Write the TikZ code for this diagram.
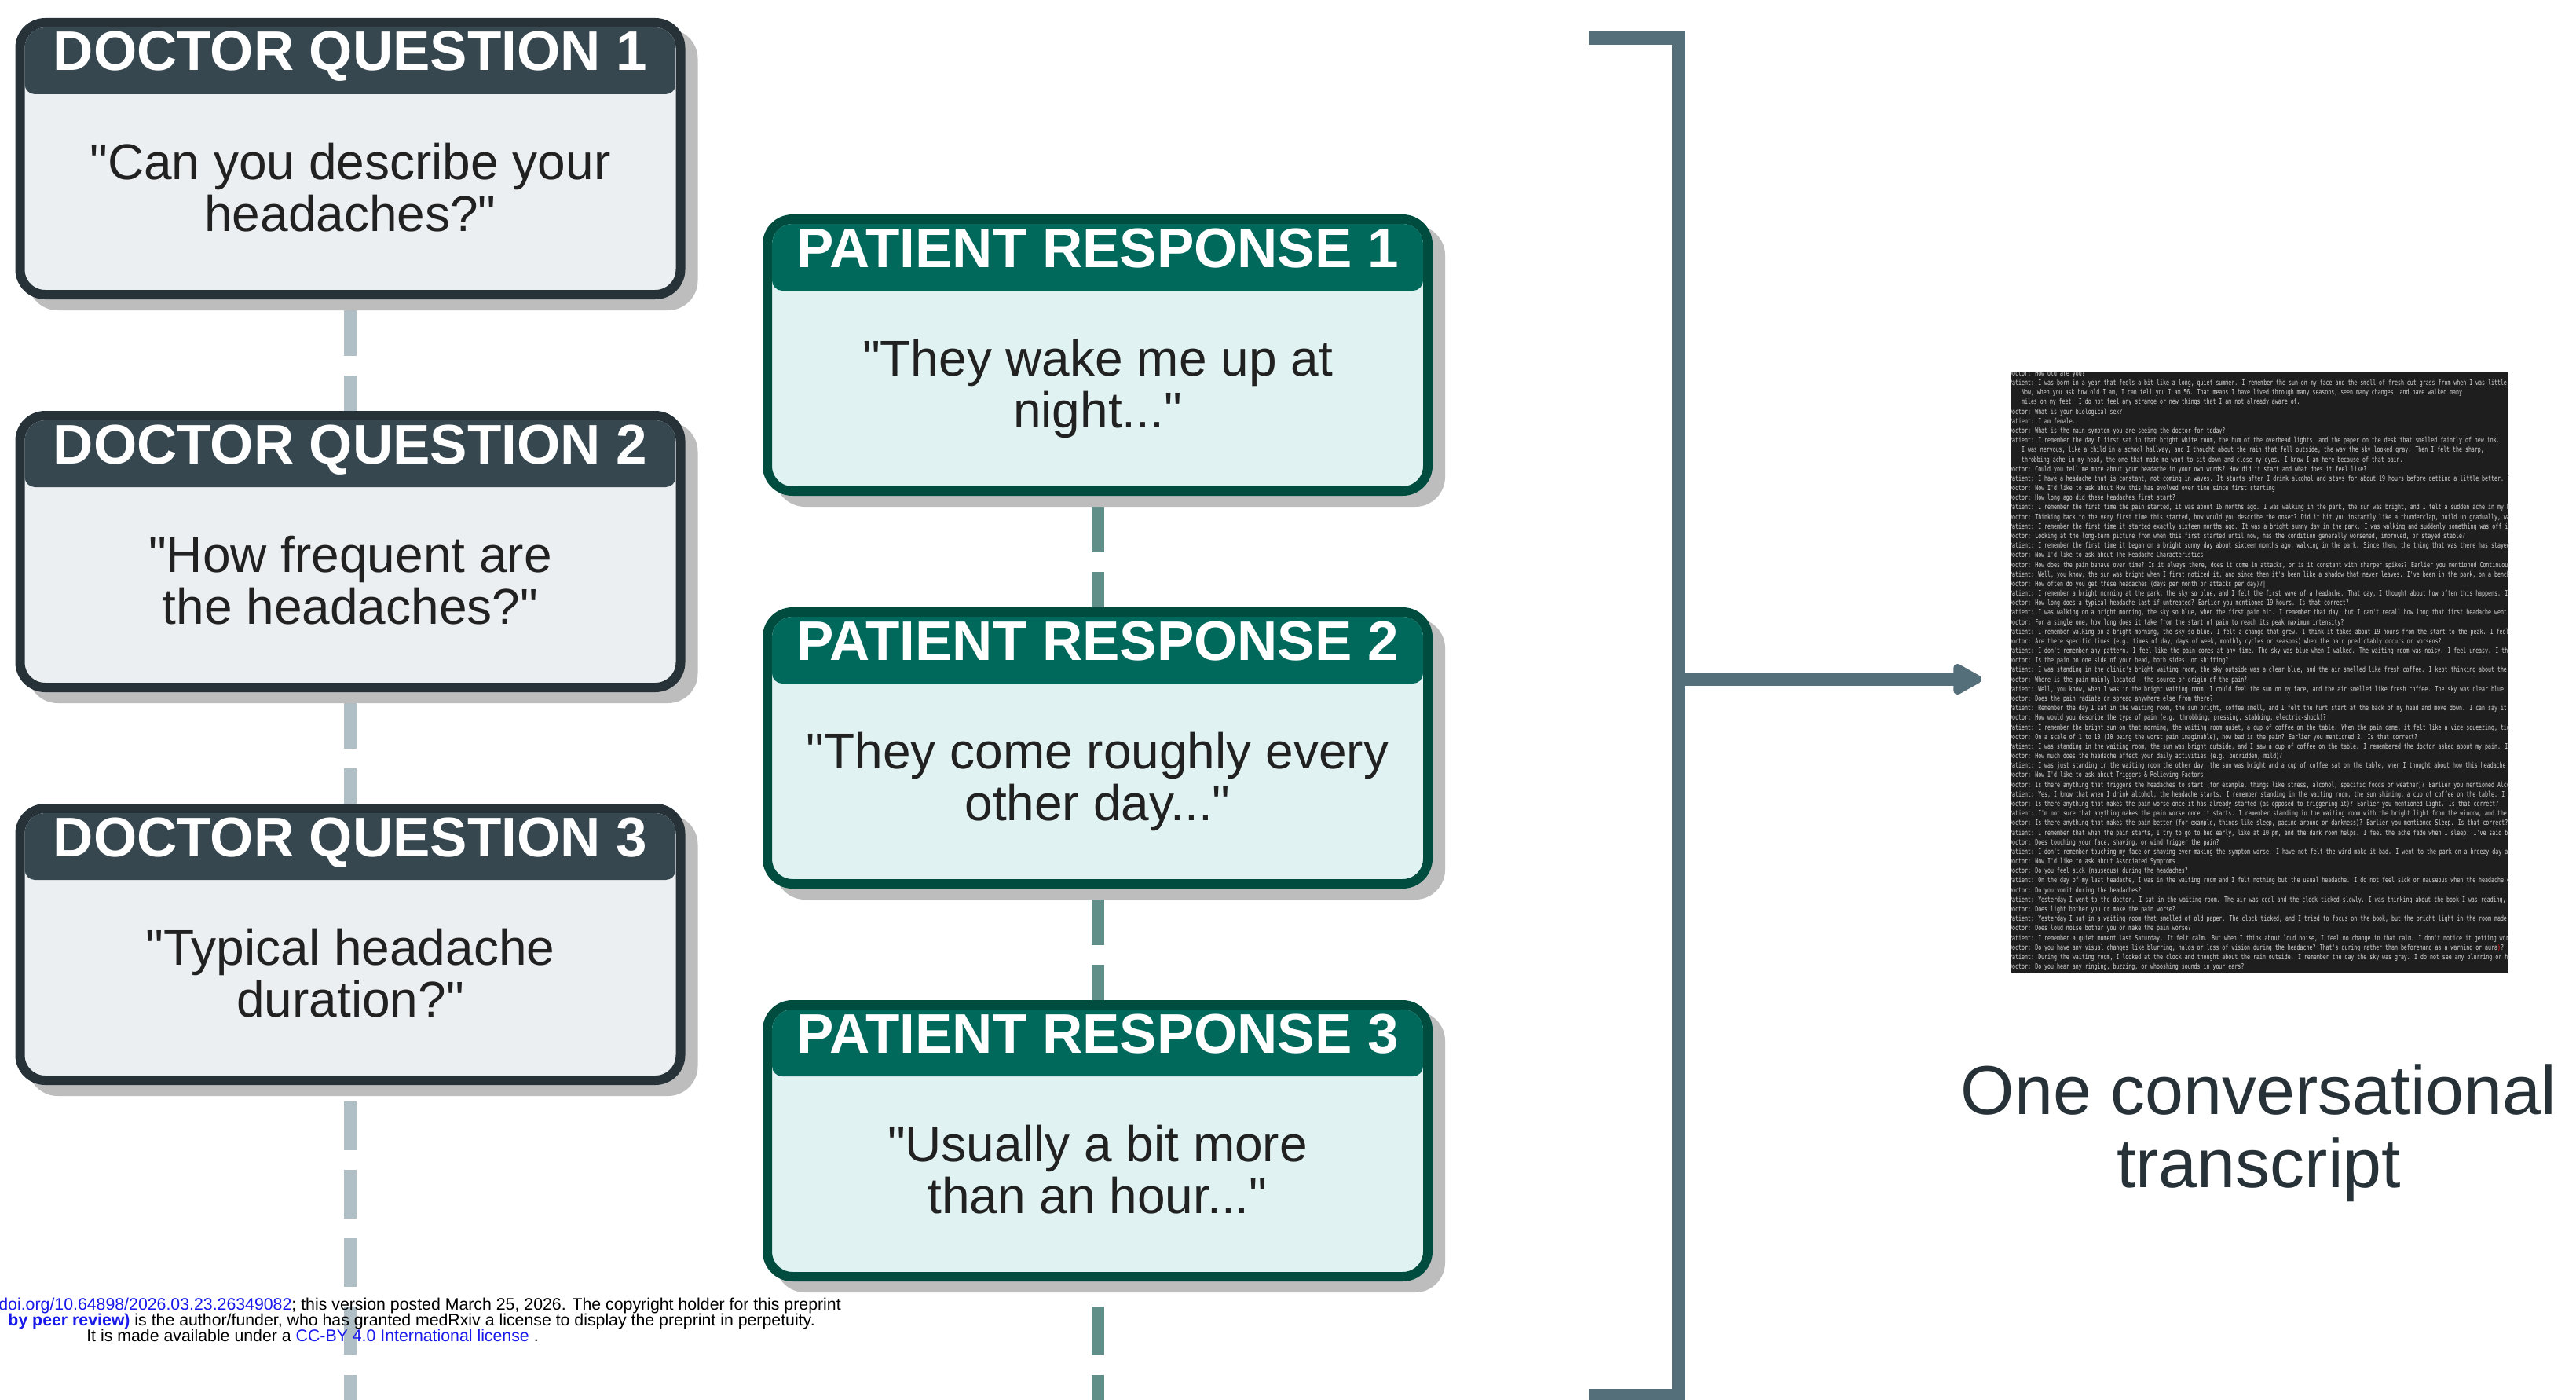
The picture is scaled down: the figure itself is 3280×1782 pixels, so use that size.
\documentclass[tikz,border=0pt]{standalone}
\usepackage{fontspec}
\setmainfont{Liberation Sans}[Ligatures=TeXOff]
\newfontfamily\trfont[FakeStretch=0.694]{DejaVu Sans Mono}
\usetikzlibrary{arrows.meta,shadows,backgrounds,calc}
\definecolor{dqhead}{HTML}{37474F}
\definecolor{dqborder}{HTML}{263238}
\definecolor{dqbody}{HTML}{ECEFF1}
\definecolor{prhead}{HTML}{00695C}
\definecolor{prborder}{HTML}{004D40}
\definecolor{prbody}{HTML}{E0F2F1}
\definecolor{shadowgray}{HTML}{BDBDBD}
\definecolor{dqdash}{HTML}{B0BEC5}
\definecolor{prdash}{HTML}{5F8F88}
\definecolor{brcol}{HTML}{546E7A}
\definecolor{bodytext}{HTML}{212121}
\definecolor{labeltext}{HTML}{263238}
\definecolor{trbg}{HTML}{1E1E1E}
\definecolor{trtext}{HTML}{D8D8D8}
\definecolor{linkblue}{RGB}{25,25,235}
\newcommand{\tstrut}{\rule{0pt}{0.8em}}
\newcommand{\hdrband}[2]{%
  \begin{scope}
    \clip[rounded corners=26pt] ([shift={(6,6)}]#1.north west) rectangle ([shift={(-6,-6)}]#1.south east);
    \fill[#2, rounded corners=13pt] ([shift={(6,6)}]#1.north west) rectangle ([shift={(-6,91)}]#1.north east);
  \end{scope}}
\newcommand{\ind}{\phantom{xxxx}}
\tikzset{
  card/.style={rectangle, rounded corners=32pt, line width=12pt, outer sep=0pt, inner sep=0pt,
    minimum width=841pt, minimum height=346pt,
    drop shadow={shadow xshift=16pt, shadow yshift=-14pt, fill=shadowgray, draw=shadowgray, opacity=1}},
  dqcard/.style={card, draw=dqborder, fill=dqbody},
  prcard/.style={card, draw=prborder, fill=prbody},
  headtext/.style={anchor=base, inner sep=0pt, text=white, font=\bfseries\fontsize{71}{71}\selectfont},
  bodytxt/.style={anchor=north, inner sep=0pt, align=center, text=bodytext, font=\fontsize{64}{66}\selectfont},
  dqconn/.style={draw=dqdash, line width=16pt, dash pattern=on 62pt off 25pt},
  prconn/.style={draw=prdash, line width=16pt, dash pattern=on 62pt off 25pt},
  brline/.style={draw=brcol, line width=17pt},
  stamp/.style={inner sep=0pt, text=black, font=\fontsize{21.3}{21.3}\selectfont},
}
\begin{document}
\begin{tikzpicture}[x=1pt, y=-1pt]
\useasboundingbox (0,0) rectangle (3280,1782);
\begin{scope}[on background layer]
  \fill[white] (0,0) rectangle (3280,1782);
\end{scope}

% Doctor cards
\node[dqcard] (dq1) at (446,202) {};
\hdrband{dq1}{dqhead}
\node[headtext] (dq1h) at ($(dq1.center)+(0,-112)$) {DOCTOR QUESTION 1};
\node[bodytxt] (dq1t) at ($(dq1.center)+(0,-25.2)$) {\tstrut"Can you describe your\\headaches?"};

\node[dqcard] (dq2) at (446,702) {};
\hdrband{dq2}{dqhead}
\node[headtext] (dq2h) at ($(dq2.center)+(0,-112)$) {DOCTOR QUESTION 2};
\node[bodytxt] (dq2t) at ($(dq2.center)+(0,-25.2)$) {\tstrut"How frequent are\\the headaches?"};

\node[dqcard] (dq3) at (446,1202) {};
\hdrband{dq3}{dqhead}
\node[headtext] (dq3h) at ($(dq3.center)+(0,-112)$) {DOCTOR QUESTION 3};
\node[bodytxt] (dq3t) at ($(dq3.center)+(0,-25.2)$) {\tstrut"Typical headache\\duration?"};

% Patient cards
\node[prcard] (pr1) at (1397.5,452) {};
\hdrband{pr1}{prhead}
\node[headtext] (pr1h) at ($(pr1.center)+(0,-112)$) {PATIENT RESPONSE 1};
\node[bodytxt] (pr1t) at ($(pr1.center)+(0,-25.2)$) {\tstrut"They wake me up at\\night..."};

\node[prcard] (pr2) at (1397.5,952) {};
\hdrband{pr2}{prhead}
\node[headtext] (pr2h) at ($(pr2.center)+(0,-112)$) {PATIENT RESPONSE 2};
\node[bodytxt] (pr2t) at ($(pr2.center)+(0,-25.2)$) {\tstrut"They come roughly every\\other day..."};

\node[prcard] (pr3) at (1397.5,1452) {};
\hdrband{pr3}{prhead}
\node[headtext] (pr3h) at ($(pr3.center)+(0,-112)$) {PATIENT RESPONSE 3};
\node[bodytxt] (pr3t) at ($(pr3.center)+(0,-25.2)$) {\tstrut"Usually a bit more\\than an hour..."};

\coordinate (dqend) at (446,1782);
\coordinate (prend) at (1397.5,1782);

% Bracket and arrow
\coordinate (brtl) at (2023,48.5);
\coordinate (brtr) at (2137.5,48.5);
\coordinate (brbr) at (2137.5,1776);
\coordinate (brbl) at (2023,1776);
\coordinate (brmid) at (2137.5,864.5);
\draw[brline, line join=miter] (brtl) -- (brtr) -- (brbr) -- (brbl);

% Transcript image
\node[fill=trbg, minimum width=633pt, minimum height=765pt, inner sep=0pt, outer sep=0pt, anchor=north west] (tr) at (2561,473) {};
\begin{scope}
\clip (tr.north west) rectangle (tr.south east);
\node[anchor=north west, inner sep=0pt, align=left, text=trtext, font=\trfont\fontsize{9.5}{12.18}\selectfont] (trtxt) at (2558,470.6) {\tstrut Doctor: How old are you?\\
Patient: I was born in a year that feels a bit like a long, quiet summer. I remember the sun on my face and the smell of fresh cut grass from when I was little.\\
\ind Now, when you ask how old I am, I can tell you I am 56. That means I have lived through many seasons, seen many changes, and have walked many\\
\ind miles on my feet. I do not feel any strange or new things that I am not already aware of.\\
Doctor: What is your biological sex?\\
Patient: I am female.\\
Doctor: What is the main symptom you are seeing the doctor for today?\\
Patient: I remember the day I first sat in that bright white room, the hum of the overhead lights, and the paper on the desk that smelled faintly of new ink.\\
\ind I was nervous, like a child in a school hallway, and I thought about the rain that fell outside, the way the sky looked gray. Then I felt the sharp,\\
\ind throbbing ache in my head, the one that made me want to sit down and close my eyes. I know I am here because of that pain.\\
Doctor: Could you tell me more about your headache in your own words? How did it start and what does it feel like?\\
Patient: I have a headache that is constant, not coming in waves. It starts after I drink alcohol and stays for about 19 hours before getting a little better. The\\
Doctor: Now I'd like to ask about How this has evolved over time since first starting\\
Doctor: How long ago did these headaches first start?\\
Patient: I remember the first time the pain started, it was about 16 months ago. I was walking in the park, the sun was bright, and I felt a sudden ache in my head\\
Doctor: Thinking back to the very first time this started, how would you describe the onset? Did it hit you instantly like a thunderclap, build up gradually, was i\\
Patient: I remember the first time it started exactly sixteen months ago. It was a bright sunny day in the park. I was walking and suddenly something was off in my\\
Doctor: Looking at the long-term picture from when this first started until now, has the condition generally worsened, improved, or stayed stable?\\
Patient: I remember the first time it began on a bright sunny day about sixteen months ago, walking in the park. Since then, the thing that was there has stayed. I\\
Doctor: Now I'd like to ask about The Headache Characteristics\\
Doctor: How does the pain behave over time? Is it always there, does it come in attacks, or is it constant with sharper spikes? Earlier you mentioned Continuous. I\\
Patient: Well, you know, the sun was bright when I first noticed it, and since then it's been like a shadow that never leaves. I've been in the park, on a bench, I\\
Doctor: How often do you get these headaches (days per month or attacks per day)?|\\
Patient: I remember a bright morning at the park, the sky so blue, and I felt the first wave of a headache. That day, I thought about how often this happens. I hav\\
Doctor: How long does a typical headache last if untreated? Earlier you mentioned 19 hours. Is that correct?\\
Patient: I was walking on a bright morning, the sky so blue, when the first pain hit. I remember that day, but I can't recall how long that first headache went on.\\
Doctor: For a single one, how long does it take from the start of pain to reach its peak maximum intensity?\\
Patient: I remember walking on a bright morning, the sky so blue. I felt a change that grew. I think it takes about 19 hours from the start to the peak. I feel lik\\
Doctor: Are there specific times (e.g. times of day, days of week, monthly cycles or seasons) when the pain predictably occurs or worsens?\\
Patient: I don't remember any pattern. I feel like the pain comes at any time. The sky was blue when I walked. The waiting room was noisy. I feel uneasy. I think i\\
Doctor: Is the pain on one side of your head, both sides, or shifting?\\
Patient: I was standing in the clinic's bright waiting room, the sky outside was a clear blue, and the air smelled like fresh coffee. I kept thinking about the tim\\
Doctor: Where is the pain mainly located - the source or origin of the pain?\\
Patient: Well, you know, when I was in the bright waiting room, I could feel the sun on my face, and the air smelled like fresh coffee. The sky was clear blue. But\\
Doctor: Does the pain radiate or spread anywhere else from there?\\
Patient: Remember the day I sat in the waiting room, the sun bright, coffee smell, and I felt the hurt start at the back of my head and move down. I can say it doe\\
Doctor: How would you describe the type of pain (e.g. throbbing, pressing, stabbing, electric-shock)?\\
Patient: I remember the bright sun on that morning, the waiting room quiet, a cup of coffee on the table. When the pain came, it felt like a vice squeezing, tight\\
Doctor: On a scale of 1 to 10 (10 being the worst pain imaginable), how bad is the pain? Earlier you mentioned 2. Is that correct?\\
Patient: I was standing in the waiting room, the sun was bright outside, and I saw a cup of coffee on the table. I remembered the doctor asked about my pain. I sai\\
Doctor: How much does the headache affect your daily activities (e.g. bedridden, mild)?\\
Patient: I was just standing in the waiting room the other day, the sun was bright and a cup of coffee sat on the table, when I thought about how this headache mig\\
Doctor: Now I'd like to ask about Triggers \& Relieving Factors\\
Doctor: Is there anything that triggers the headaches to start (for example, things like stress, alcohol, specific foods or weather)? Earlier you mentioned Alcohol\\
Patient: Yes, I know that when I drink alcohol, the headache starts. I remember standing in the waiting room, the sun shining, a cup of coffee on the table. I had\\
Doctor: Is there anything that makes the pain worse once it has already started (as opposed to triggering it)? Earlier you mentioned Light. Is that correct?\\
Patient: I'm not sure that anything makes the pain worse once it starts. I remember standing in the waiting room with the bright light from the window, and the sun\\
Doctor: Is there anything that makes the pain better (for example, things like sleep, pacing around or darkness)? Earlier you mentioned Sleep. Is that correct?\\
Patient: I remember that when the pain starts, I try to go to bed early, like at 10 pm, and the dark room helps. I feel the ache fade when I sleep. I've said befor\\
Doctor: Does touching your face, shaving, or wind trigger the pain?\\
Patient: I don't remember touching my face or shaving ever making the symptom worse. I have not felt the wind make it bad. I went to the park on a breezy day and I\\
Doctor: Now I'd like to ask about Associated Symptoms\\
Doctor: Do you feel sick (nauseous) during the headaches?\\
Patient: On the day of my last headache, I was in the waiting room and I felt nothing but the usual headache. I do not feel sick or nauseous when the headache come\\
Doctor: Do you vomit during the headaches?\\
Patient: Yesterday I went to the doctor. I sat in the waiting room. The air was cool and the clock ticked slowly. I was thinking about the book I was reading, but\\
Doctor: Does light bother you or make the pain worse?\\
Patient: Yesterday I sat in a waiting room that smelled of old paper. The clock ticked, and I tried to focus on the book, but the bright light in the room made my\\
Doctor: Does loud noise bother you or make the pain worse?\\
Patient: I remember a quiet moment last Saturday. It felt calm. But when I think about loud noise, I feel no change in that calm. I don't notice it getting worse.\\
Doctor: Do you have any visual changes like blurring, halos or loss of vision during the headache? That's during rather than beforehand as a warning or aura\textcolor{red}{)}?\\
Patient: During the waiting room, I looked at the clock and thought about the rain outside. I remember the day the sky was gray. I do not see any blurring or halos\\
Doctor: Do you hear any ringing, buzzing, or whooshing sounds in your ears?};
\end{scope}

\draw[brline, -{Triangle[length=42pt, width=43pt, round]}, shorten >=38pt] (brmid) -- (brmid -| tr.west);

\node[anchor=north, inner sep=0pt, align=center, text=labeltext, font=\fontsize{88}{93}\selectfont] (lbl) at (2876,1347.6) {\tstrut One conversational\\transcript};

% medRxiv stamp
\node[stamp, anchor=base east] (mr1) at (1071,1667) {\textcolor{linkblue}{doi.org/10.64898/2026.03.23.26349082}; this version posted March 25, 2026. The copyright holder for this preprint};
\node[stamp, anchor=base east] (mr2) at (1038,1687) {\textcolor{linkblue}{\bfseries by peer review)} is the author/funder, who has granted medRxiv a license to display the preprint in perpetuity.};
\node[stamp, anchor=base] (mr3) at (398,1707) {It is made available under a \textcolor{linkblue}{CC-BY 4.0 International license} .};

% Connectors behind cards
\begin{scope}[on background layer]
  \draw[dqconn, dash phase=71pt] (dq1.south) -- (dq2.north);
  \draw[dqconn, dash phase=71pt] (dq2.south) -- (dq3.north);
  \draw[dqconn, dash phase=60pt] (dq3.south) -- (dqend);
  \draw[prconn, dash phase=71pt] (pr1.south) -- (pr2.north);
  \draw[prconn, dash phase=71pt] (pr2.south) -- (pr3.north);
  \draw[prconn, dash phase=49pt] (pr3.south) -- (prend);
\end{scope}
\end{tikzpicture}
\end{document}
